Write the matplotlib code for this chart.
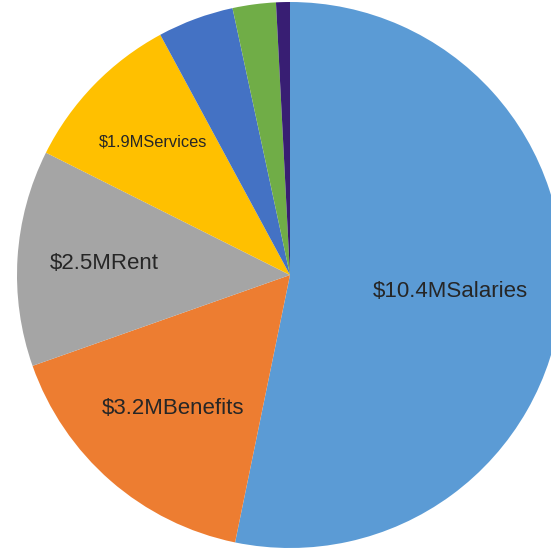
import numpy as np
import matplotlib.pyplot as plt

plt.rcParams['font.family'] = ['Liberation Sans', 'DejaVu Sans']

# Budget breakdown, millions of dollars
categories = ['Salaries', 'Benefits', 'Rent', 'Services', 'Supplies', 'Travel', 'Other']
values = [10.4, 3.2, 2.5, 1.9, 0.88, 0.5, 0.16]
labels = ['$10.4M', '$3.2M', '$2.5M', '$1.9M', '', '', '']
colors = ['#5B9BD5', '#ED7D31', '#A5A5A5', '#FFC000', '#4472C4', '#70AD47', '#381E73']
label_dist = [0.59, 0.65, 0.68, 0.70]
label_size = [16, 16, 16, 11.8]

fig = plt.figure(figsize=(5.51, 5.55), dpi=100)
ax = fig.add_axes([0, 0, 1, 1])
ax.set_xlim(0, 551)
ax.set_ylim(0, 555)
ax.set_aspect('equal')
ax.axis('off')

cx, cy, r = 290, 280, 273
wedges, _ = ax.pie(values, colors=colors, startangle=90, counterclock=False,
                   center=(cx, cy), radius=r, frame=True,
                   wedgeprops=dict(linewidth=0))
ax.set_xlim(0, 551)
ax.set_ylim(0, 555)
ax.axis('off')

for i, w in enumerate(wedges[:4]):
    mid = np.deg2rad((w.theta1 + w.theta2) / 2)
    d = label_dist[i] * r
    ax.text(cx + d * np.cos(mid), cy + d * np.sin(mid), labels[i] + categories[i],
            ha='center', va='center', fontsize=label_size[i], color='#262626')

fig.savefig('out.png', dpi=100)
